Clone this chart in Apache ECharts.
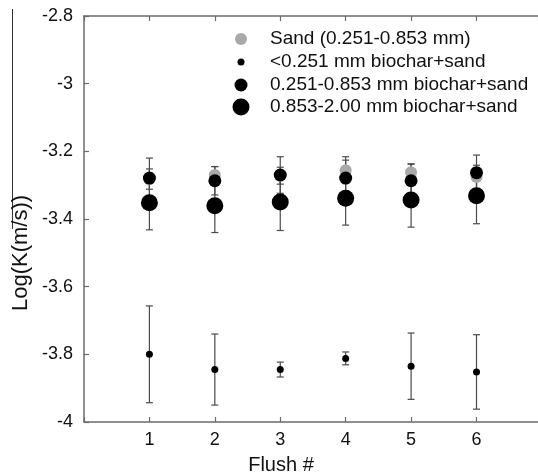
<!DOCTYPE html>
<html>
<head>
<meta charset="utf-8">
<script src="https://cdn.jsdelivr.net/npm/echarts@6/dist/echarts.min.js"></script>
<style>
  html, body { margin: 0; padding: 0; background: #fff; }
  #chart { width: 538px; height: 476px; }
</style>
</head>
<body>
<div id="chart"></div>
<script>
// Hydraulic conductivity, log10 K (m/s), over six flushes
const flushes = [1, 2, 3, 4, 5, 6];
const xTickLabels = ['1', '2', '3', '4', '5', '6'];

const sandMean   = [-3.282, -3.270, -3.272, -3.256, -3.262, -3.276];
const sandErr    = [0.030, 0.025, 0.025, 0.030, 0.025, 0.035];

const fineMean   = [-3.800, -3.845, -3.845, -3.812, -3.835, -3.852];
const fineErr    = [0.143, 0.105, 0.022, 0.019, 0.098, 0.110];

const midMean    = [-3.279, -3.287, -3.270, -3.279, -3.287, -3.263];
const midErr     = [0.059, 0.042, 0.054, 0.063, 0.049, 0.052];

const coarseMean = [-3.352, -3.361, -3.350, -3.339, -3.344, -3.331];
const coarseErr  = [0.080, 0.079, 0.084, 0.079, 0.080, 0.083];

const seriesNames = [
  'Sand (0.251-0.853 mm)',
  '<0.251 mm biochar+sand',
  '0.251-0.853 mm biochar+sand',
  '0.853-2.00 mm biochar+sand'
];

const FONT = '"Liberation Sans", Arial, sans-serif';
const AXIS_COLOR = '#6b6b6b';
const BAR_COLOR = '#4a4a4a';

const points = (mean) => flushes.map((f, i) => [f, mean[i]]);
const ranges = (mean, err) => flushes.map((f, i) => [f, mean[i] - err[i], mean[i] + err[i]]);

// Vertical error bar with short caps at both ends
function renderErrorBar(params, api) {
  const x = api.value(0);
  const lo = api.coord([x, api.value(1)]);
  const hi = api.coord([x, api.value(2)]);
  const hw = 3.5;
  const style = { stroke: BAR_COLOR, lineWidth: 1.2, fill: null };
  return {
    type: 'group',
    children: [
      { type: 'line', shape: { x1: lo[0], y1: lo[1], x2: hi[0], y2: hi[1] }, style },
      { type: 'line', shape: { x1: lo[0] - hw, y1: lo[1], x2: lo[0] + hw, y2: lo[1] }, style },
      { type: 'line', shape: { x1: hi[0] - hw, y1: hi[1], x2: hi[0] + hw, y2: hi[1] }, style }
    ]
  };
}

function errorSeries(mean, err) {
  return {
    type: 'custom',
    renderItem: renderErrorBar,
    encode: { x: 0, y: [1, 2] },
    data: ranges(mean, err),
    silent: true,
    z: 1
  };
}

const markerSizes = [12, 7, 13, 17];
const markerColors = ['#a9a9a9', '#000000', '#000000', '#000000'];

// Legend block: marker column and text column, one row per series
const legendMarkerX = 241;
const legendTextX = 270;
const legendRowY = [39, 62, 85, 107];

const legendGraphics = [];
seriesNames.forEach((name, i) => {
  legendGraphics.push({
    type: 'circle',
    shape: { cx: legendMarkerX, cy: legendRowY[i], r: markerSizes[i] / 2 },
    style: { fill: markerColors[i] },
    silent: true
  });
  legendGraphics.push({
    type: 'text',
    x: legendTextX, y: legendRowY[i],
    style: {
      text: name, fontSize: 19, fontFamily: FONT, fill: '#111',
      align: 'left', verticalAlign: 'middle'
    },
    silent: true
  });
});

// Axis spans 0..7 flushes; the right border falls just past the canvas edge
const xMax = 6.94;

const xAxisBase = {
  type: 'value',
  min: 0,
  max: xMax,
  interval: 1,
  splitLine: { show: false },
  axisLine: { onZero: false, lineStyle: { color: AXIS_COLOR, width: 1.5 } },
  axisTick: { inside: true, length: 5, lineStyle: { color: AXIS_COLOR, width: 1.2 } }
};

const option = {
  animation: false,
  backgroundColor: '#fff',
  grid: { left: 84, right: 0, top: 16, bottom: 54 },
  xAxis: [
    Object.assign({}, xAxisBase, {
      position: 'bottom',
      axisLabel: {
        fontSize: 18, fontFamily: FONT, color: '#111', margin: 9,
        showMaxLabel: false,
        formatter: (v) => {
          const i = flushes.indexOf(v);
          return i >= 0 ? xTickLabels[i] : '';
        }
      }
    }),
    Object.assign({}, xAxisBase, {
      position: 'top',
      axisLabel: { show: false }
    })
  ],
  yAxis: {
    type: 'value',
    min: -4,
    max: -2.8,
    interval: 0.2,
    splitLine: { show: false },
    axisLine: { onZero: false, lineStyle: { color: AXIS_COLOR, width: 1.5 } },
    axisTick: { inside: true, length: 5, lineStyle: { color: AXIS_COLOR, width: 1.2 } },
    axisLabel: { fontSize: 18, fontFamily: FONT, color: '#111', margin: 11 }
  },
  series: [
    errorSeries(sandMean, sandErr),
    errorSeries(fineMean, fineErr),
    errorSeries(midMean, midErr),
    errorSeries(coarseMean, coarseErr),
    {
      name: seriesNames[0], type: 'scatter', data: points(sandMean),
      symbolSize: markerSizes[0], itemStyle: { color: markerColors[0], opacity: 1 }, z: 2
    },
    {
      name: seriesNames[2], type: 'scatter', data: points(midMean),
      symbolSize: markerSizes[2], itemStyle: { color: markerColors[2], opacity: 1 }, z: 3
    },
    {
      name: seriesNames[3], type: 'scatter', data: points(coarseMean),
      symbolSize: markerSizes[3], itemStyle: { color: markerColors[3], opacity: 1 }, z: 4
    },
    {
      name: seriesNames[1], type: 'scatter', data: points(fineMean),
      symbolSize: markerSizes[1], itemStyle: { color: markerColors[1], opacity: 1 }, z: 5
    }
  ],
  graphic: [
    {
      type: 'line',
      shape: { x1: 12.5, y1: 9, x2: 12.5, y2: 229 },
      style: { stroke: '#333', lineWidth: 1 }
    },
    {
      type: 'text',
      x: 21, y: 253,
      rotation: Math.PI / 2,
      style: {
        text: 'Log(K(m/s))', fontSize: 22, fontFamily: FONT, fill: '#111',
        align: 'center', verticalAlign: 'middle'
      }
    },
    {
      type: 'text',
      x: 281, y: 465,
      style: {
        text: 'Flush #', fontSize: 20, fontFamily: FONT, fill: '#111',
        align: 'center', verticalAlign: 'middle'
      }
    }
  ].concat(legendGraphics)
};

const chart = echarts.init(document.getElementById('chart'), null, { renderer: 'canvas' });
chart.setOption(option);
</script>
</body>
</html>
